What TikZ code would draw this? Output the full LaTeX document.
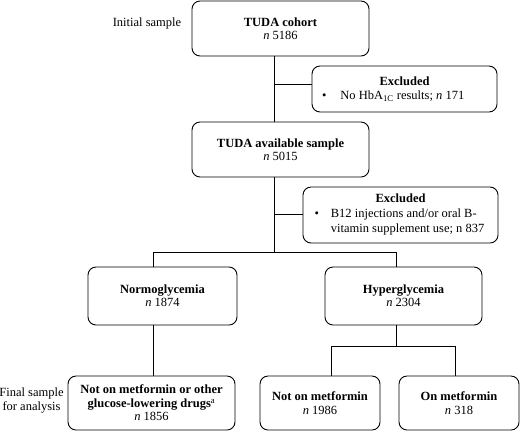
\documentclass[tikz,border=0pt]{standalone}
\usepackage{fontspec}
\setmainfont{Liberation Serif}
\begin{document}
\begin{tikzpicture}[x=1bp,y=-1bp,
  every node/.style={font=\fontsize{12.5bp}{13.4bp}\selectfont},
  box/.style={draw, line width=0.9bp, rounded corners=8bp, inner sep=0pt, align=center},
  conn/.style={line width=0.9bp},
  lab/.style={align=center, inner sep=0pt}]
\useasboundingbox (0,0) rectangle (520,432);
% boxes
\node[box, minimum width=177bp, minimum height=55bp] (cohort) at (280.5,28.5)
  {\textbf{TUDA cohort}\\\textit{n} 5186};
\node[box, minimum width=185bp, minimum height=46bp] (exc1) at (404.5,89)
  {\textbf{Excluded}\\[1.3bp]\makebox[165bp][l]{\textbullet\hspace{14bp}No HbA\textsubscript{1C} results; \textit{n} 171}};
\node[box, minimum width=177bp, minimum height=55bp] (avail) at (280.5,149.5)
  {\textbf{TUDA available sample}\\\textit{n} 5015};
\node[box, minimum width=195bp, minimum height=56bp] (exc2) at (400.5,215)
  {\textbf{Excluded}\\[1.5bp]\makebox[172bp][l]{\renewcommand\arraystretch{1.12}\begin{tabular}[t]{@{}l@{\hspace{12bp}}l@{}}\textbullet & B12 injections and/or oral B-\\ & vitamin supplement use; n 837\end{tabular}}};
\node[box, minimum width=149bp, minimum height=58bp] (normo) at (162.5,296)
  {\textbf{Normoglycemia}\\\textit{n} 1874};
\node[box, minimum width=157bp, minimum height=58bp] (hyper) at (403.5,296)
  {\textbf{Hyperglycemia}\\\textit{n} 2304};
\node[box, minimum width=167bp, minimum height=54bp] (final1) at (151.5,403)
  {\textbf{Not on metformin or other}\\\textbf{glucose-lowering drugs}\textsuperscript{a}\\\textit{n} 1856};
\node[box, minimum width=120bp, minimum height=54bp] (notmet) at (320,403)
  {\textbf{Not on metformin}\\\textit{n} 1986};
\node[box, minimum width=120bp, minimum height=54bp] (onmet) at (459,403)
  {\textbf{On metformin}\\\textit{n} 318};
% side labels
\node[lab, anchor=base] (initlab) at (147,26.5) {Initial sample};
\node[lab, font=\fontsize{12.5bp}{14bp}\selectfont] (finlab) at (31.5,400) {Final sample\\for analysis};
% junctions
\coordinate (j1) at (274,84.5);
\coordinate (j2) at (274,214.5);
\coordinate (j3) at (274,252);
\coordinate (bl) at (153,252);
\coordinate (br) at (396,252);
\coordinate (h1) at (396,346);
\coordinate (hl) at (331,346);
\coordinate (hr) at (455,346);
% connectors
\draw[conn] (cohort.south -| j1) -- (avail.north -| j1);
\draw[conn] (j1) -- (exc1.west |- j1);
\draw[conn] (avail.south -| j3) -- (j3);
\draw[conn] (j2) -- (exc2.west |- j2);
\draw[conn] (bl) -- (br);
\draw[conn] (bl) -- (normo.north -| bl);
\draw[conn] (br) -- (hyper.north -| br);
\draw[conn] (normo.south -| bl) -- (final1.north -| bl);
\draw[conn] (hyper.south -| br) -- (h1);
\draw[conn] (hl) -- (hr);
\draw[conn] (hl) -- (notmet.north -| hl);
\draw[conn] (hr) -- (onmet.north -| hr);
\end{tikzpicture}
\end{document}
